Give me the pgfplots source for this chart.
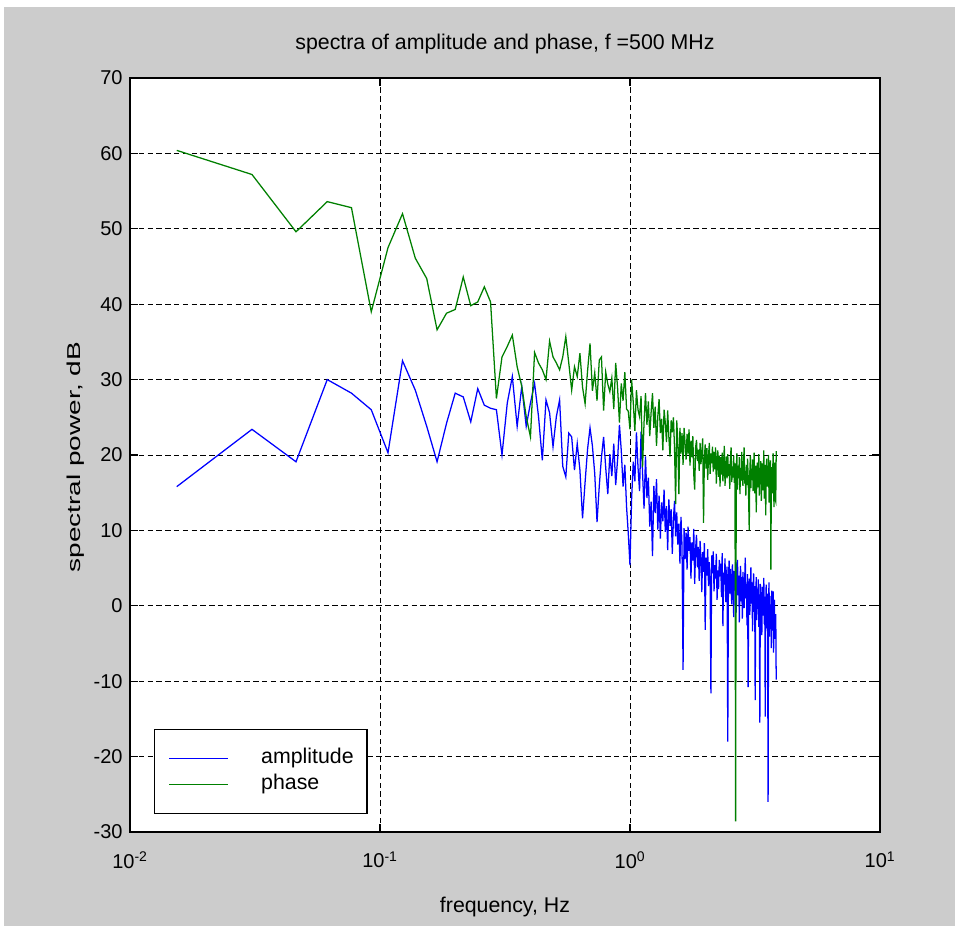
\documentclass[border=0pt]{standalone}
\usepackage{fontspec}
\setmainfont{Liberation Sans}
\usepackage{graphicx}
\usepackage{pgfplots}
\usepackage{pgfplotstable}
\pgfplotsset{compat=1.18}
\definecolor{mgreen}{rgb}{0,0.5,0}
\definecolor{figgray}{rgb}{0.8,0.8,0.8}

\pgfplotstableread[row sep=\\]{
k amp ph\\
1 15.8 60.4\\ 2 23.4 57.2\\ 3 19.1 49.6\\ 4 30.0 53.6\\ 5 28.2 52.8\\
6 26.0 39.0\\ 7 20.3 47.5\\ 8 32.5 52.0\\ 9 28.6 46.1\\ 10 23.8 43.4\\
11 19.1 36.6\\ 12 24.2 38.8\\ 13 28.2 39.3\\ 14 27.7 43.6\\ 15 24.4 39.8\\
16 28.8 40.3\\ 17 26.6 42.3\\ 18 26.2 40.3\\ 19 26.0 27.5\\ 20 20.0 33.0\\
21 26.9 34.4\\ 22 30.4 35.9\\ 23 23.8 31.7\\ 24 29.1 29.1\\ 25 23.8 25.1\\
26 26.9 22.4\\ 27 29.5 33.6\\ 28 25.1 32.2\\ 29 19.3 31.3\\ 30 27.3 30.0\\
31 25.6 35.1\\ 32 21.1 33.0\\ 33 25.1 32.2\\ 34 27.3 31.3\\ 35 18.5 33.0\\
36 17.1 35.7\\ 37 22.9 32.2\\ 38 22.4 28.6\\ 39 18.0 31.7\\ 40 21.5 30.4\\
41 18.0 33.5\\ 42 11.6 29.0\\ 43 16.4 26.8\\ 44 20.8 31.2\\ 45 23.6 34.8\\
46 21.2 28.5\\ 47 17.5 30.9\\ 48 11.1 27.2\\ 49 15.9 32.6\\ 50 19.7 33.0\\
51 22.4 25.9\\ 52 18.3 31.0\\ 53 14.8 29.4\\ 54 20.1 28.4\\ 55 17.2 30.2\\
56 21.5 26.1\\ 57 16.0 32.2\\ 58 19.4 28.9\\ 59 24.0 24.3\\ 60 20.6 29.5\\
61 15.8 27.2\\ 62 18.7 31.0\\ 63 13.1 26.1\\ 64 9.6 25.8\\ 65 5.4 23.4\\
66 14.2 30.0\\ 67 19.1 27.0\\ 68 16.5 23.2\\ 69 23.0 28.6\\ 70 18.4 26.0\\
71 15.2 25.1\\ 72 23.1 27.8\\ 73 17.6 18.4\\ 74 12.9 24.3\\ 75 19.8 28.2\\
76 14.3 24.0\\ 77 17.0 27.1\\ 78 10.5 22.5\\ 79 13.8 25.7\\ 80 6.6 28.2\\
81 15.9 23.6\\ 82 12.3 26.4\\ 83 16.8 21.2\\ 84 10.1 25.1\\ 85 14.6 27.4\\
86 8.9 22.9\\ 87 13.7 24.8\\ 88 11.2 20.6\\ 89 15.4 26.0\\ 90 9.8 24.3\\
91 13.2 21.7\\ 92 7.4 25.9\\ 93 14.1 22.4\\ 94 10.6 19.8\\ 95 12.8 24.6\\
96 6.9 23.0\\ 97 11.5 25.0\\ 98 13.9 20.9\\ 99 9.2 13.5\\ 100 12.4 24.6\\
101 8.1 21.8\\ 102 10.9 14.8\\ 103 5.6 23.6\\ 104 11.8 20.2\\ 105 7.9 22.9\\
106 -8.5 18.7\\ 107 10.3 23.6\\ 108 6.2 21.5\\ 109 9.7 19.4\\ 110 4.8 22.8\\
111 10.5 20.1\\ 112 7.3 23.4\\ 113 9.1 18.6\\ 114 3.6 21.9\\ 115 8.4 19.7\\
116 6.0 22.5\\ 117 10.2 17.4\\ 118 2.9 15.4\\ 119 7.6 21.0\\ 120 9.4 22.0\\
121 5.1 19.2\\ 122 7.8 20.7\\ 123 3.3 17.9\\ 124 8.6 21.6\\ 125 6.2 18.8\\
126 1.8 20.3\\ 127 7.1 22.2\\ 128 4.5 11.0\\ 129 8.3 19.5\\ 130 -3.2 21.4\\
131 6.4 18.2\\ 132 4.0 20.9\\ 133 7.5 16.7\\ 134 2.6 19.8\\ 135 5.8 21.6\\
136 3.1 17.5\\ 137 -11.6 20.2\\ 138 6.7 18.9\\ 139 4.3 21.1\\ 140 7.2 17.8\\
141 1.9 20.4\\ 142 5.4 18.1\\ 143 3.6 21.0\\ 144 6.9 16.2\\ 145 0.8 19.3\\
146 4.7 20.6\\ 147 2.2 17.1\\ 148 6.1 19.9\\ 149 3.9 15.8\\ 150 5.6 19.7\\
151 1.2 17.4\\ 152 7.0 20.3\\ 153 -2.7 16.5\\ 154 4.4 18.9\\ 155 2.8 21.2\\
156 6.3 15.9\\ 157 0.5 18.2\\ 158 3.7 19.8\\ 159 5.2 16.9\\ 160 -18.0 20.1\\
161 3.5 17.2\\ 162 6.0 18.8\\ 163 1.6 15.5\\ 164 4.9 19.6\\ 165 2.3 21.0\\
166 0.2 16.4\\ 167 5.5 18.5\\ 168 3.0 17.0\\ 169 -1.5 19.9\\ 170 4.6 16.3\\
171 2.0 18.9\\ 172 5.8 -28.6\\ 173 -0.9 17.8\\ 174 3.2 20.2\\ 175 6.1 15.4\\
176 1.4 18.6\\ 177 4.0 16.9\\ 178 -2.2 19.7\\ 179 2.7 14.8\\ 180 5.3 18.3\\
181 0.6 16.6\\ 182 3.8 20.4\\ 183 -1.7 17.1\\ 184 4.5 15.9\\ 185 2.1 18.8\\
186 -0.3 21.0\\ 187 3.4 16.2\\ 188 6.4 17.9\\ 189 1.0 14.6\\ 190 2.9 18.7\\
191 -2.6 16.0\\ 192 4.2 19.5\\ 193 -10.8 17.3\\ 194 1.7 13.8\\ 195 3.6 10.0\\
196 -1.2 17.6\\ 197 2.4 19.9\\ 198 5.1 15.6\\ 199 0.3 18.2\\ 200 3.1 16.9\\
201 -3.4 19.4\\ 202 1.9 15.2\\ 203 4.3 17.8\\ 204 -0.8 20.3\\ 205 2.6 14.9\\
206 -12.5 17.2\\ 207 1.1 18.6\\ 208 3.8 12.4\\ 209 -1.9 16.8\\ 210 2.2 19.0\\
211 0.1 15.7\\ 212 3.5 17.4\\ 213 -2.8 20.1\\ 214 1.5 14.6\\ 215 -15.5 18.3\\
216 2.9 16.1\\ 217 -0.6 19.2\\ 218 1.8 13.9\\ 219 -3.9 17.5\\ 220 2.5 18.9\\
221 -1.3 15.3\\ 222 0.9 17.0\\ 223 3.7 20.6\\ 224 -2.4 14.2\\ 225 1.2 16.8\\
226 -14.7 18.7\\ 227 0.4 12.0\\ 228 2.8 17.3\\ 229 -3.0 19.5\\ 230 1.6 15.8\\
231 -1.8 18.1\\ 232 -26.0 16.4\\ 233 0.7 20.0\\ 234 3.1 13.7\\ 235 -4.1 17.6\\
236 1.3 15.1\\ 237 -2.1 19.3\\ 238 0.2 4.8\\ 239 -5.6 16.2\\ 240 2.0 18.4\\
241 -3.3 14.9\\ 242 -0.4 17.7\\ 243 1.9 20.2\\ 244 -6.2 15.5\\ 245 -1.0 13.1\\
246 0.8 17.9\\ 247 -4.4 19.0\\ 248 -2.9 14.0\\ 249 -1.1 13.8\\ 250 -9.8 20.5\\
}\spec

\begin{document}
\begin{tikzpicture}
\fill[white] (-97.5pt,-74.25pt) rectangle (622.5pt,624pt);
\fill[figgray] (-94.5pt,-70.5pt) rectangle (618.75pt,618.75pt);
\begin{axis}[
  at={(0pt,0pt)}, anchor=south west,
  scale only axis, width=562.5pt, height=565.5pt,
  axis background/.style={fill=white},
  xmode=log, xmin=0.01, xmax=10, ymin=-30, ymax=70,
  xtick={0.01,0.1,1,10},
  xticklabels={10\textsuperscript{-2},10\textsuperscript{-1},10\textsuperscript{0},10\textsuperscript{1}},
  ytick={-30,-20,...,70},
  xminorticks=false,
  /pgf/number format/assume math mode=true,
  grid=major,
  major grid style={black, dash pattern=on 4pt off 2.6pt, line width=0.7pt},
  axis line style={black, line width=1pt},
  tick align=inside, major tick length=6pt,
  tick style={black, line width=0.8pt},
  ticklabel style={font=\fontsize{15}{18}\selectfont},
  xticklabel style={yshift=-11pt},
  yticklabel style={xshift=-2pt},
  title={spectra of amplitude and phase, f =500 MHz},
  title style={at={(axis description cs:0.5,1.035)}, anchor=center, font=\fontsize{16}{19}\selectfont},
  xlabel={frequency, Hz},
  xlabel style={at={(axis description cs:0.5,-0.099)}, anchor=center, font=\fontsize{16}{19}\selectfont},
  ylabel={\scalebox{1.5}[1]{spectral power, dB}},
  ylabel style={at={(axis description cs:-0.0727,0.497)}, anchor=center, font=\fontsize{14}{17}\selectfont},
  legend style={at={(rel axis cs:0.032,0.0239)}, anchor=south west, draw=black, fill=white,
    line width=0.8pt, font=\fontsize{16}{19}\selectfont,
    inner xsep=8pt, inner ysep=13.6pt, row sep=3.7pt,
    nodes={inner ysep=0pt, text height=12pt, text depth=4pt},
    cells={anchor=west}},
  legend image code/.code={\path[draw=none,fill=none] (0pt,0pt) -- (70pt,0pt); \draw[#1, line width=1pt] (3pt,0pt) -- (47pt,0pt);},
]
\addplot[blue, line width=0.95pt] table[x expr=\thisrow{k}*0.01538, y=amp] {\spec};
\addplot[mgreen, line width=0.95pt] table[x expr=\thisrow{k}*0.01538, y=ph] {\spec};
\legend{amplitude, phase}
\end{axis}
\end{tikzpicture}
\end{document}
